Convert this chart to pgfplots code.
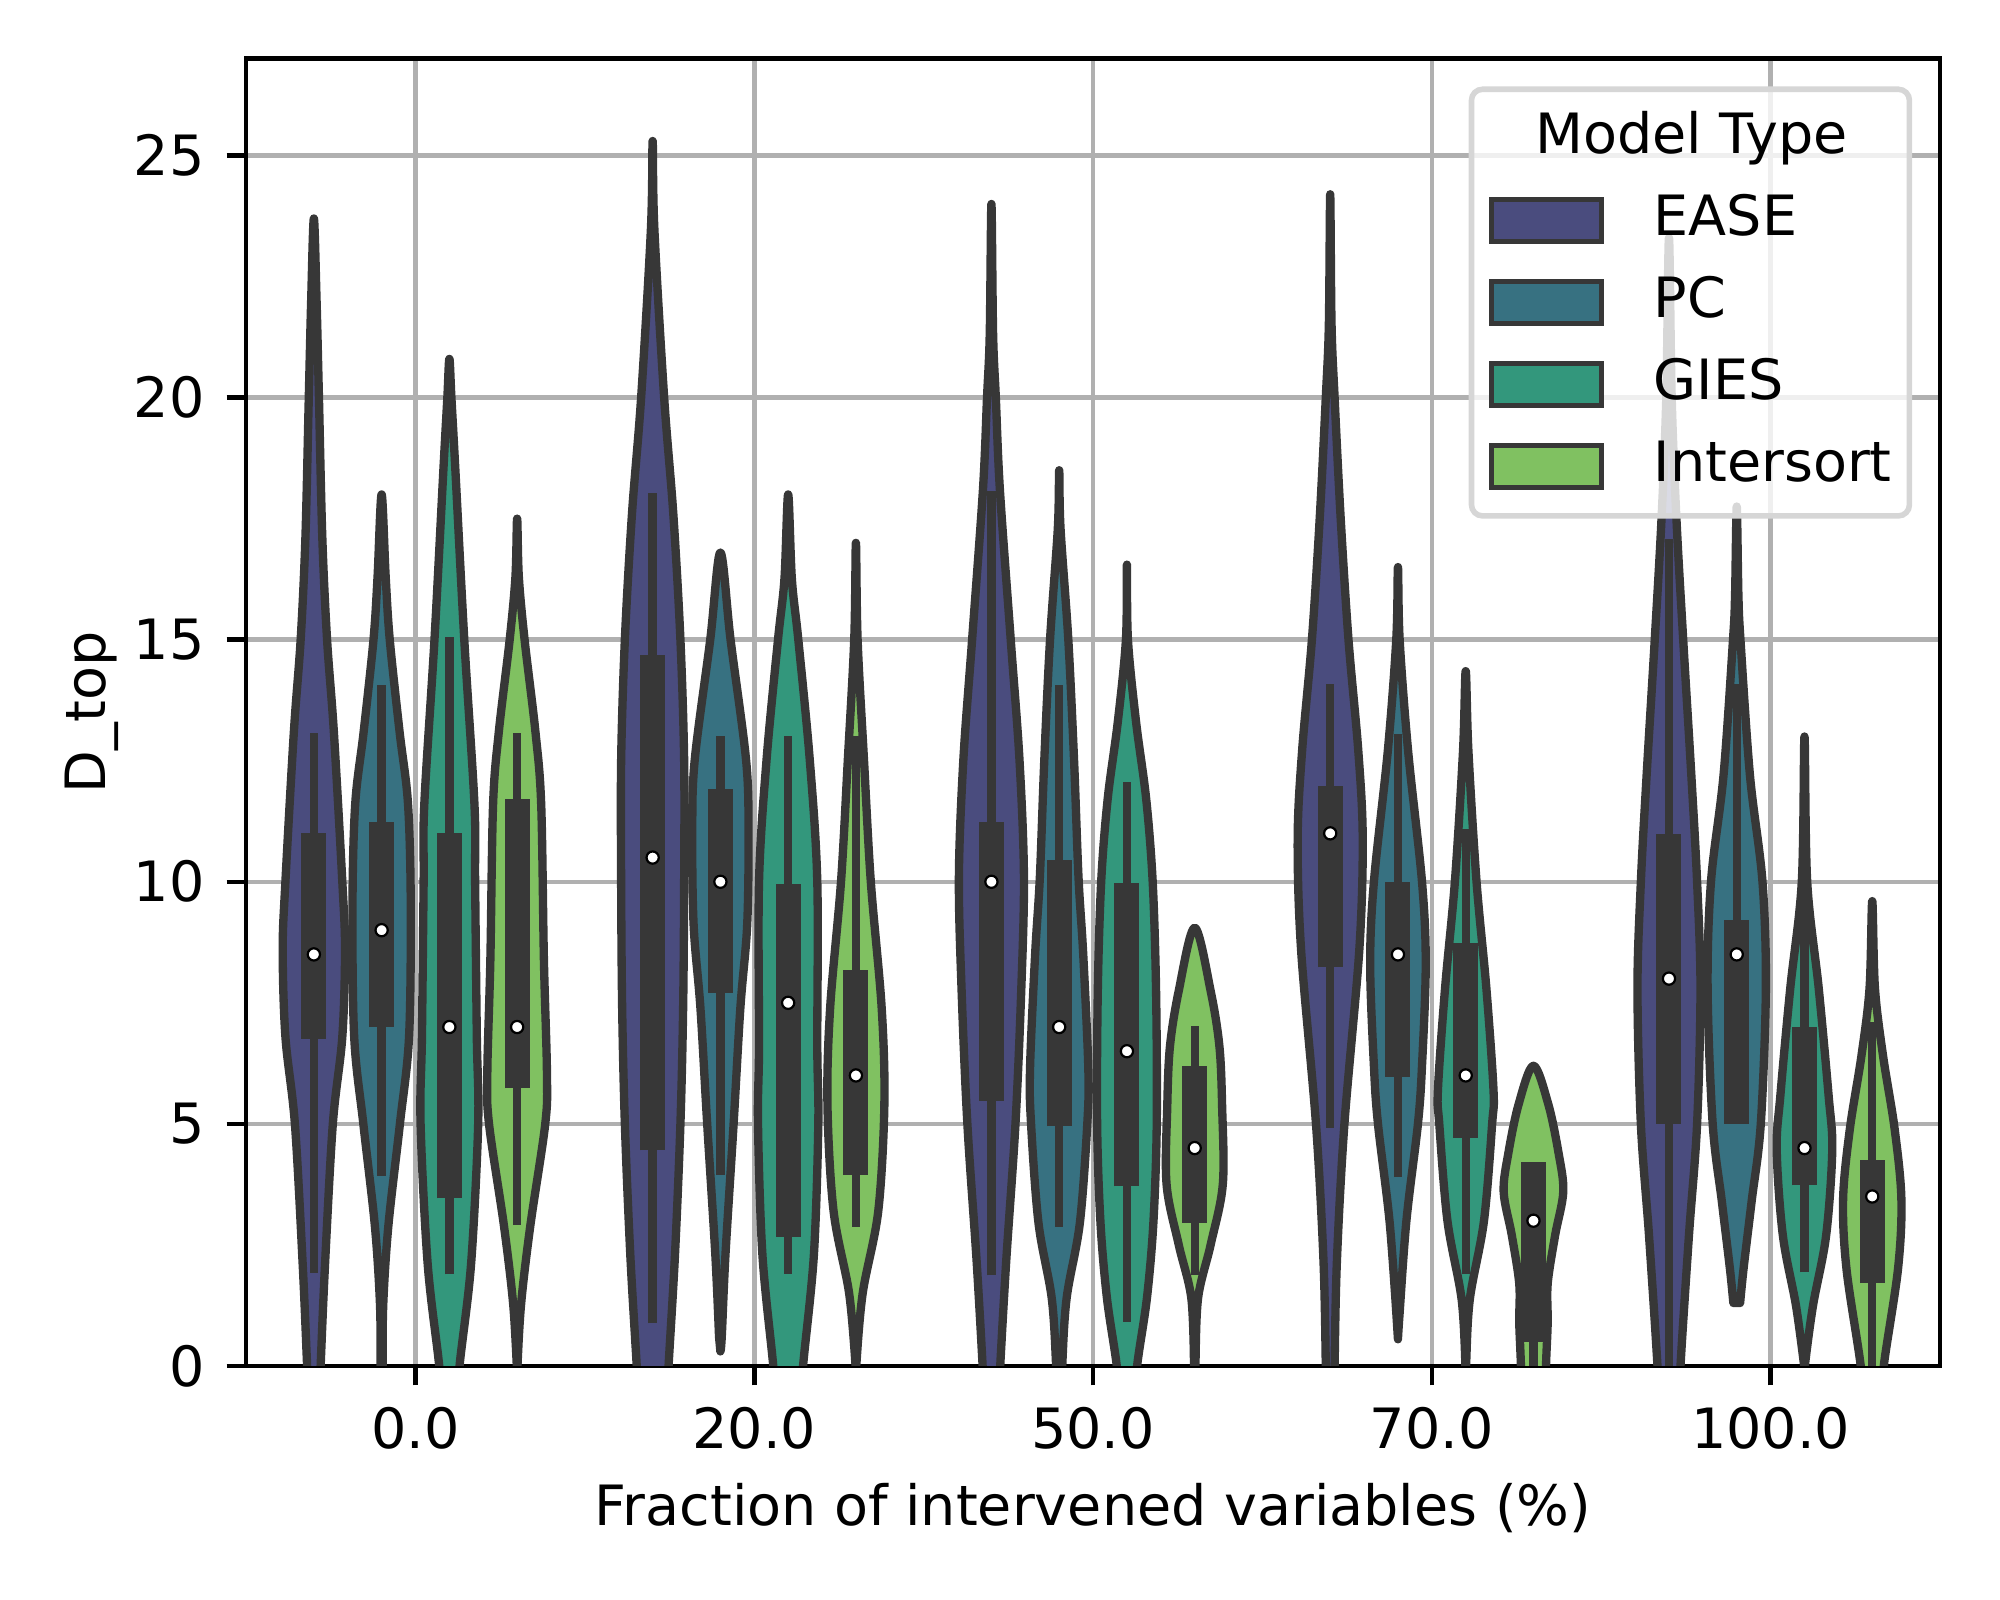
\documentclass[border=0pt]{standalone}
\usepackage{fontspec}
\setmainfont{DejaVu Sans}
\usepackage{pgfplots}
\pgfplotsset{compat=1.18}
\definecolor{cEASE}{HTML}{4A4C7E}
\definecolor{cPC}{HTML}{377181}
\definecolor{cGIES}{HTML}{33977C}
\definecolor{cINT}{HTML}{80C161}
\definecolor{cline}{HTML}{373737}
\definecolor{gridgray}{HTML}{B0B0B0}
\definecolor{legframe}{HTML}{D6D6D6}
\pgfplotsset{
  vio/.style={forget plot, draw=cline, line width=1.5pt, line join=round, smooth, tension=0.55},
  patch/.style={legend image code/.code={\draw[##1, line width=0.8pt, draw=cline, fill opacity=1, sharp corners] (0pt,-3.8pt) rectangle (19.8pt,3.8pt);}},
}
% violin body: #1 centre, #2 colour, #3 list of y/half-width pairs (bottom to top)
\newcommand{\violin}[3]{%
  \gdef\vR{}\gdef\vL{}%
  \foreach \yy/\ww in {#3}{%
    \pgfmathsetmacro\xr{#1+\ww}%
    \pgfmathsetmacro\xl{#1-\ww}%
    \ifdim\ww pt=0pt
      \xdef\vR{\vR (\xr,\yy)}%
    \else
      \xdef\vR{\vR (\xr,\yy)}%
      \xdef\vL{(\xl,\yy) \vL}%
    \fi
  }%
  \edef\tmp{\noexpand\addplot[vio,fill=#2] coordinates {\vR \vL} -- cycle;}%
  \tmp
}
% inner box: #1 centre, #2 q1, #3 q3, #4 whisker low, #5 whisker high, #6 median
\newcommand{\vinner}[6]{%
  \addplot[forget plot, draw=cline, line width=1.5pt, line cap=butt] coordinates {(#1,#4) (#1,#5)};
  \addplot[forget plot, draw=cline, line width=4.5pt, line cap=butt] coordinates {(#1,#2) (#1,#3)};
  \addplot[forget plot, only marks, mark=*, mark size=1.1pt, mark options={fill=white, draw=none}] coordinates {(#1,#6)};
}
\begin{document}
\begin{tikzpicture}
\begin{axis}[
  scale only axis, width=304.9pt, height=235.3pt,
  xmin=-0.5, xmax=4.5, ymin=0, ymax=27,
  xtick={0,1,2,3,4}, xticklabels={0.0,20.0,50.0,70.0,100.0},
  ytick={0,5,10,15,20,25},
  minor tick num=0,
  /pgf/number format/assume math mode=true,
  grid=major, major grid style={draw=gridgray, line width=0.8pt},
  axis line style={line width=0.8pt, black},
  tick style={line width=0.8pt, black}, major tick length=3.5pt, tick align=outside,
  xtick pos=bottom, ytick pos=left,
  xticklabel style={anchor=north, inner sep=0pt, yshift=-3.8pt},
  yticklabel style={anchor=east, inner sep=0pt, xshift=-3.8pt},
  xlabel={Fraction of intervened variables (\%)},
  ylabel={D\_top},
  xlabel style={at={(axis description cs:0.5,-0.1084)}, anchor=center, inner sep=0pt},
  ylabel style={at={(axis description cs:-0.0912,0.5)}, anchor=center, inner sep=0pt},
  legend cell align=left,
  legend style={at={(axis description cs:1,1)}, anchor=north east, xshift=-5pt, yshift=-5pt,
    draw=legframe, line width=1pt, fill=white, fill opacity=0.8, text opacity=1, rounded corners=2pt,
    inner xsep=3.2pt, inner ysep=1.5pt, row sep=0pt, column sep=9pt,
    nodes={inner sep=0pt, text height=10.13pt, text depth=4.63pt}},
]
\coordinate (bl) at (rel axis cs:0,0);
\coordinate (tr) at (rel axis cs:1,1);
% ---- 0.0
\violin{-0.3}{cEASE}{-1/0.015, 0/0.02, 2.1/0.033, 5/0.056, 6.8/0.084, 8.6/0.092, 10/0.084, 13.1/0.059, 15/0.039, 17.1/0.025, 20/0.015, 22/0.008, 23.7/0}
\vinner{-0.3}{6.76}{11.0}{1.92}{13.08}{8.5}
\violin{-0.1}{cPC}{-1/0.004, 0/0.003, 1.3/0.005, 2.9/0.02, 5/0.054, 6.8/0.081, 9.5/0.086, 11.6/0.078, 13.1/0.053, 15/0.024, 16.3/0.012, 18/0}
\vinner{-0.1}{7.0}{11.24}{3.93}{14.07}{9}
\violin{0.1}{cGIES}{-1/0.022, 0/0.03, 2.1/0.064, 5/0.085, 6.8/0.081, 10/0.076, 11.6/0.074, 15/0.044, 18.6/0.017, 20/0.006, 20.8/0}
\vinner{0.1}{3.46}{11.0}{1.89}{15.06}{7}
\violin{0.3}{cINT}{-0.5/0, 0/0.001, 1.3/0.012, 2.9/0.039, 5/0.083, 6.05/0.088, 8.4/0.079, 11.6/0.071, 13.1/0.054, 15/0.022, 16.3/0.005, 17.5/0}
\vinner{0.3}{5.74}{11.71}{2.91}{13.08}{7}
% ---- 20.0
\violin{0.7}{cEASE}{-1/0.04, 0/0.047, 2.3/0.066, 5/0.082, 7.4/0.090, 10/0.093, 12.5/0.093, 15/0.082, 17.6/0.061, 20/0.034, 23.5/0.005, 25.3/0}
\vinner{0.7}{4.45}{14.69}{0.88}{18.03}{10.5}
\violin{0.9}{cPC}{0.3/0, 0.6/0.004, 2.3/0.015, 5/0.039, 7.4/0.059, 9.1/0.079, 11/0.083, 12.5/0.076, 15/0.03, 16.8/0}
\vinner{0.9}{7.71}{11.92}{3.94}{13.02}{10}
\violin{1.1}{cGIES}{-1/0.035, 0/0.044, 2.3/0.076, 5/0.089, 6.6/0.086, 10/0.086, 12.5/0.064, 15/0.03, 16.25/0.011, 18/0}
\vinner{1.1}{2.67}{9.95}{1.9}{13.02}{7.5}
\violin{1.3}{cINT}{-0.5/0, 0/0.001, 1.5/0.02, 3.2/0.066, 5.4/0.084, 7.4/0.076, 10/0.044, 12.5/0.024, 15/0.005, 17/0}
\vinner{1.3}{3.94}{8.18}{2.87}{13.02}{6}
% ---- 50.0
\violin{1.7}{cEASE}{-1/0.02, 0/0.026, 2.2/0.044, 5/0.071, 7.75/0.088, 10.1/0.096, 12.5/0.083, 15/0.057, 18.1/0.025, 20/0.013, 21.3/0.005, 24/0}
\vinner{1.7}{5.48}{11.23}{1.87}{18.08}{10}
\violin{1.9}{cPC}{-1/0.005, 0/0.009, 1.4/0.022, 2.95/0.061, 5/0.083, 6.15/0.086, 8.5/0.071, 10.1/0.057, 12.5/0.044, 15/0.027, 17.3/0.004, 18.5/0}
\vinner{1.9}{4.95}{10.46}{2.88}{14.06}{7}
\violin{2.1}{cGIES}{-1/0.02, 0/0.03, 1.4/0.059, 2.95/0.078, 5/0.088, 7.75/0.086, 10/0.076, 11.7/0.057, 13.3/0.027, 15/0.003, 16.55/0}
\vinner{2.1}{3.71}{9.97}{0.91}{12.06}{6.5}
\violin{2.3}{cINT}{-0.3/0, 0/0.002, 1.4/0.01, 2.5/0.047, 3.75/0.083, 5.35/0.081, 6.6/0.073, 7.75/0.047, 9.05/0}
\vinner{2.3}{2.96}{6.2}{1.87}{7.03}{4.5}
% ---- 70.0
\violin{2.7}{cEASE}{-1/0.012, 0/0.013, 2.2/0.02, 5/0.042, 8.6/0.086, 10.9/0.096, 12.7/0.083, 15/0.054, 17.5/0.031, 20/0.013, 21.5/0.004, 24.2/0}
\vinner{2.7}{8.23}{11.97}{4.92}{14.08}{11}
\violin{2.9}{cPC}{0.55/0, 1.0/0.004, 3.0/0.025, 5/0.059, 6.2/0.071, 8.3/0.082, 10/0.071, 12.7/0.03, 15/0.005, 16.5/0}
\vinner{2.9}{5.97}{10.0}{3.9}{13.06}{8.5}
\violin{3.1}{cGIES}{-0.3/0, 0/0.001, 1.37/0.012, 3.0/0.054, 5/0.078, 5.7/0.082, 7.8/0.061, 10/0.032, 12.7/0.008, 14.35/0}
\vinner{3.1}{4.71}{8.74}{1.89}{11.08}{6}
\violin{3.3}{cINT}{-1/0.035, 0/0.037, 0.9/0.042, 1.7/0.042, 2.7/0.064, 3.6/0.088, 4.4/0.074, 5.4/0.044, 6.2/0}
\vinner{3.3}{0.5}{4.22}{0}{4.22}{3}
% ---- 100.0
\violin{3.7}{cEASE}{-1/0.03, 0/0.034, 2.7/0.059, 5/0.083, 7.8/0.093, 10/0.083, 12.2/0.066, 15/0.042, 17.5/0.022, 20/0.008, 23.3/0}
\vinner{3.7}{5.0}{10.98}{0}{17.09}{8}
\violin{3.9}{cPC}{1.3/0.01, 2.0/0.02, 3.4/0.044, 5/0.071, 7.8/0.086, 10/0.076, 12.2/0.039, 15/0.011, 15.9/0.005, 17.75/0}
\vinner{3.9}{5.0}{9.22}{5.0}{14.08}{8.5}
\violin{4.1}{cGIES}{-0.3/0, 0/0.001, 1.24/0.025, 2.7/0.064, 4.47/0.082, 5.6/0.071, 7.8/0.042, 10/0.008, 13/0}
\vinner{4.1}{3.73}{7.0}{1.93}{10.06}{4.5}
\violin{4.3}{cINT}{-1/0.025, 0/0.034, 2.0/0.076, 3.45/0.086, 4.9/0.066, 6.4/0.032, 7.8/0.008, 9.6/0}
\vinner{4.3}{1.71}{4.25}{0}{7.1}{3.5}
% ---- legend
\addlegendimage{empty legend}
\addlegendentry{\makebox[13.6pt][c]{Model Type}}
\addlegendimage{patch, fill=cEASE}
\addlegendentry{EASE}
\addlegendimage{patch, fill=cPC}
\addlegendentry{PC}
\addlegendimage{patch, fill=cGIES}
\addlegendentry{GIES}
\addlegendimage{patch, fill=cINT}
\addlegendentry{Intersort}
\end{axis}
\pgfresetboundingbox
\path[use as bounding box] ([xshift=-44.3pt,yshift=-42.1pt]bl) rectangle ([xshift=10.8pt,yshift=10.57pt]tr);
\end{tikzpicture}
\end{document}
